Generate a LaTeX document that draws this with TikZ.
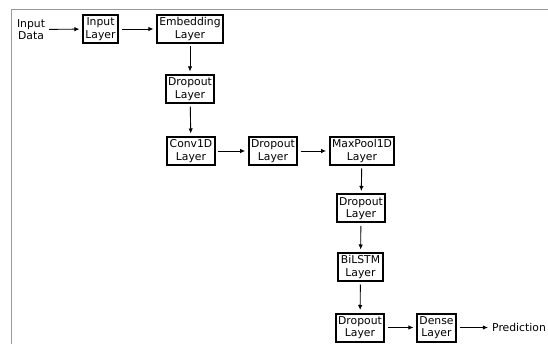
\documentclass[tikz,border=0pt]{standalone}
\usepackage{fontspec}
\setmainfont{DejaVu Sans}
\usetikzlibrary{arrows.meta}
\begin{document}
\begin{tikzpicture}[x=1pt,y=-1pt,
  every node/.style={font=\fontsize{10.8}{12.5}\selectfont, align=center},
  layer/.style={draw=black, line width=2pt, inner xsep=2.5pt, inner ysep=1pt, minimum height=28pt},
  plain/.style={inner sep=1.5pt},
  conn/.style={line width=0.9pt, shorten >=2.5pt, shorten <=2.5pt, -{Latex[length=5pt,width=4.5pt]}},
  frame/.style={draw=black!40, line width=1pt}]
\useasboundingbox (0,0) rectangle (548,344);
\draw[frame] (11,344) -- (11,10) -- (548,10);
\node[plain] (data) at (31,29.5) {Input\\Data};
\node[layer] (inl) at (100.5,29) {Input\\Layer};
\node[layer] (emb) at (190,29) {Embedding\\Layer};
\node[layer] (dr1) at (190,89) {Dropout\\Layer};
\node[layer] (conv) at (191,151) {Conv1D\\Layer};
\node[layer] (dr2) at (273,151) {Dropout\\Layer};
\node[layer] (mp) at (362,151) {MaxPool1D\\Layer};
\node[layer] (dr3) at (361,208.5) {Dropout\\Layer};
\node[layer] (bil) at (360.5,267) {BiLSTM\\Layer};
\node[layer] (dr4) at (360,327.5) {Dropout\\Layer};
\node[layer] (den) at (436.5,327.5) {Dense\\Layer};
\node[plain] (pred) at (519,327.5) {Prediction};
\draw[conn] (data) -- (inl);
\draw[conn] (inl) -- (emb);
\draw[conn] (emb) -- (dr1);
\draw[conn] (dr1) -- (conv);
\draw[conn] (conv) -- (dr2);
\draw[conn] (dr2) -- (mp);
\draw[conn] (mp) -- (dr3);
\draw[conn] (dr3) -- (bil);
\draw[conn] (bil) -- (dr4);
\draw[conn] (dr4) -- (den);
\draw[conn] (den) -- (pred);
\end{tikzpicture}
\end{document}
